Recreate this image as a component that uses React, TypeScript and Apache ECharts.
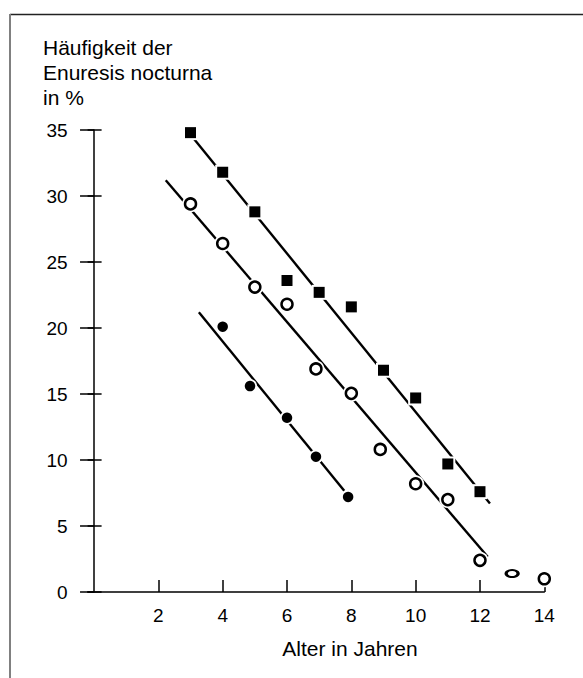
import React, { useEffect, useRef } from "react";
import * as echarts from "echarts";

// ---- data ----
const xTicks = [2, 4, 6, 8, 10, 12, 14];
const yTicksInterval = 5;

const squareAges = [3, 4, 5, 6, 7, 8, 9, 10, 11, 12];
const squareValues = [34.8, 31.8, 28.8, 23.6, 22.7, 21.6, 16.8, 14.7, 9.7, 7.6];

const openAges = [3, 4, 5, 6, 6.9, 8, 8.9, 10, 11, 12, 13, 14];
const openValues = [29.4, 26.4, 23.1, 21.8, 16.9, 15.05, 10.8, 8.2, 7.0, 2.4, 1.4, 1.0];

const filledAges = [4, 4.85, 6, 6.9, 7.9];
const filledValues = [20.1, 15.6, 13.2, 10.25, 7.2];

const squareFitX = [2.65, 12.31];
const squareFitY = [35.7, 6.7];
const openFitX = [2.23, 12.24];
const openFitY = [31.2, 2.67];
const filledFitX = [3.26, 7.78];
const filledFitY = [21.2, 7.67];

const titleLines = ["Häufigkeit der", "Enuresis nocturna", "in %"];
const xTitle = "Alter in Jahren";

const FONT = "'Liberation Sans', Arial, Helvetica, sans-serif";

const zip = (xs: number[], ys: number[]) => xs.map((x, i) => [x, ys[i]]);

export default function App() {
  const ref = useRef<HTMLDivElement>(null);

  useEffect(() => {
    if (!ref.current) return;
    const chart = echarts.init(ref.current, undefined, { renderer: "svg" });

    const openData = zip(openAges, openValues).map((p) =>
      p[0] === 13 ? { value: p, symbolSize: [12, 7] } : { value: p }
    );
    const openUnder = zip(openAges, openValues).map((p) =>
      p[0] === 13 ? { value: p, symbolSize: [17, 12] } : { value: p }
    );

    const fitLine = (xs: number[], ys: number[]) => ({
      type: "line",
      data: zip(xs, ys),
      symbol: "none",
      lineStyle: { color: "#000", width: 2.4 },
      z: 2,
      silent: true,
    });

    chart.setOption({
      animation: false,
      backgroundColor: "#fff",
      textStyle: { fontFamily: FONT },
      grid: { left: 87.6, right: 38.7, top: 130, bottom: 86, containLabel: false },
      xAxis: {
        type: "value",
        min: -0.2,
        max: 14,
        axisLine: { show: true, lineStyle: { color: "#000", width: 1.5 } },
        axisTick: {
          show: true,
          inside: true,
          length: 12,
          lineStyle: { color: "#000", width: 1.5 },
          customValues: xTicks,
        },
        axisLabel: {
          show: true,
          margin: 14,
          color: "#000",
          fontSize: 19,
          fontFamily: FONT,
          customValues: xTicks,
        },
        splitLine: { show: false },
      },
      yAxis: [
        {
          type: "value",
          position: "left",
          min: 0,
          max: 35,
          interval: yTicksInterval,
          axisLine: { show: true, lineStyle: { color: "#000", width: 1.5 } },
          axisTick: { show: true, inside: false, length: 14, lineStyle: { color: "#000", width: 1.5 } },
          axisLabel: { show: true, margin: 20, color: "#000", fontSize: 19, fontFamily: FONT },
          splitLine: { show: false },
        },
        {
          type: "value",
          position: "left",
          min: 0,
          max: 35,
          interval: yTicksInterval,
          axisLine: { show: false },
          axisTick: { show: true, inside: true, length: 14, lineStyle: { color: "#000", width: 1.5 } },
          axisLabel: { show: false },
          splitLine: { show: false },
        },
      ],
      series: [
        fitLine(squareFitX, squareFitY),
        fitLine(openFitX, openFitY),
        fitLine(filledFitX, filledFitY),
        {
          type: "scatter",
          data: zip(squareAges, squareValues),
          symbol: "rect",
          symbolSize: 15,
          itemStyle: { color: "#fff", opacity: 1 },
          z: 3,
          silent: true,
        },
        {
          type: "scatter",
          data: openUnder,
          symbol: "circle",
          symbolSize: 17,
          itemStyle: { color: "#fff", opacity: 1 },
          z: 3,
          silent: true,
        },
        {
          type: "scatter",
          data: zip(filledAges, filledValues),
          symbol: "circle",
          symbolSize: 14,
          itemStyle: { color: "#fff", opacity: 1 },
          z: 3,
          silent: true,
        },
        {
          type: "scatter",
          data: zip(squareAges, squareValues),
          symbol: "rect",
          symbolSize: 11,
          itemStyle: { color: "#000", opacity: 1 },
          z: 4,
        },
        {
          type: "scatter",
          data: openData,
          symbol: "circle",
          symbolSize: 11,
          itemStyle: { color: "#fff", borderColor: "#000", borderWidth: 2.5, opacity: 1 },
          z: 4,
        },
        {
          type: "scatter",
          data: zip(filledAges, filledValues),
          symbol: "circle",
          symbolSize: 10.5,
          itemStyle: { color: "#000", opacity: 1 },
          z: 4,
        },
      ],
      graphic: [
        {
          type: "line",
          shape: { x1: 10, y1: 14.5, x2: 583, y2: 14.5 },
          style: { stroke: "#222", lineWidth: 1.5 },
        },
        {
          type: "line",
          shape: { x1: 10, y1: 14, x2: 10, y2: 678 },
          style: { stroke: "#808080", lineWidth: 2 },
        },
        ...titleLines.map((t, i) => ({
          type: "text",
          x: 43,
          y: 47 + i * 25,
          style: {
            text: t,
            fill: "#000",
            font: `21px ${FONT}`,
            textAlign: "left",
            textVerticalAlign: "middle",
          },
        })),
        {
          type: "text",
          x: 350,
          y: 648,
          style: {
            text: xTitle,
            fill: "#000",
            font: `21px ${FONT}`,
            textAlign: "center",
            textVerticalAlign: "middle",
          },
        },
      ],
    });

    return () => chart.dispose();
  }, []);

  return (
    <div
      ref={ref}
      style={{ position: "fixed", left: 0, top: 0, width: 583, height: 678 }}
    />
  );
}
